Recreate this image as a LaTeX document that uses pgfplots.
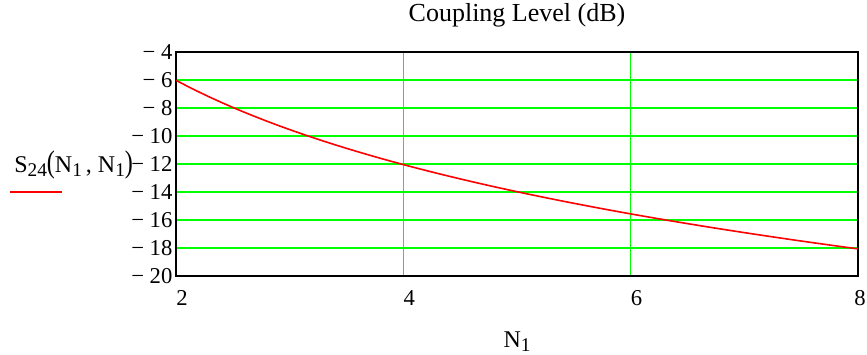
\documentclass[border=0pt]{standalone}
\usepackage{fontspec}
\setmainfont{Liberation Serif}
\usepackage{graphicx}
\usepackage{pgfplots}
\pgfplotsset{compat=1.18}
\definecolor{pgreen}{RGB}{0,255,0}
\definecolor{pred}{RGB}{255,0,0}
\newcommand{\sub}[1]{\raisebox{-0.35ex}{\fontsize{14.5}{14.5}\selectfont #1}}
\pgfplotstableread{
x y
2.0 -6.0206
2.1 -6.4444
2.2 -6.8485
2.3 -7.2346
2.4 -7.6042
2.5 -7.9588
2.6 -8.2995
2.7 -8.6273
2.8 -8.9432
2.9 -9.2480
3.0 -9.5424
3.1 -9.8272
3.2 -10.1030
3.3 -10.3703
3.4 -10.6296
3.5 -10.8814
3.6 -11.1261
3.7 -11.3640
3.8 -11.5957
3.9 -11.8213
4.0 -12.0412
4.1 -12.2557
4.2 -12.4650
4.3 -12.6694
4.4 -12.8691
4.5 -13.0643
4.6 -13.2552
4.7 -13.4420
4.8 -13.6248
4.9 -13.8039
5.0 -13.9794
5.1 -14.1514
5.2 -14.3201
5.3 -14.4855
5.4 -14.6479
5.5 -14.8073
5.6 -14.9638
5.7 -15.1175
5.8 -15.2686
5.9 -15.4170
6.0 -15.5630
6.1 -15.7066
6.2 -15.8478
6.3 -15.9868
6.4 -16.1236
6.5 -16.2583
6.6 -16.3909
6.7 -16.5215
6.8 -16.6502
6.9 -16.7770
7.0 -16.9020
7.1 -17.0252
7.2 -17.1466
7.3 -17.2665
7.4 -17.3846
7.5 -17.5012
7.6 -17.6163
7.7 -17.7298
7.8 -17.8419
7.9 -17.9525
8.0 -18.0618
}\coupling
\begin{document}
\begin{tikzpicture}
\begin{axis}[
  scale only axis, width=511.5pt, height=168pt,
  xmin=2, xmax=8, ymin=-20, ymax=-4,
  xtick={2,4,6,8}, xticklabels={2,4,6,{\hspace*{-3pt}8}},
  ytick={-20,-18,-16,-14,-12,-10,-8,-6,-4},
  yticklabels={{−\ 20},{−\ 18},{−\ 16},{−\ 14},{−\ 12},{−\ 10},{−\ 8},{−\ 6},{−\ 4}},
  major tick length=0pt,
  grid=major,
  major grid style={color=pgreen, line width=1pt},
  axis line style={line width=1.5pt, black},
  tick label style={font=\fontsize{17}{19}\selectfont},
  yticklabel style={anchor=east, inner sep=0pt, xshift=-2.5pt},
  xticklabel style={anchor=base west, inner sep=0pt, yshift=-22pt},
  title={Coupling Level (dB)},
  title style={at={(axis description cs:0.5,1)}, anchor=base, yshift=17pt, inner sep=0pt, font=\fontsize{19.5}{22}\selectfont},
  xlabel={N\sub{1}},
  every axis x label/.style={at={(axis description cs:0.5,0)}, anchor=base, yshift=-53.5pt, inner sep=0pt, font=\fontsize{18}{20}\selectfont},
  ylabel={S\sub{24}\scalebox{1}[1.3]{(}N\sub{1}\,, N\sub{1}\scalebox{1}[1.3]{)}},
  every axis y label/.style={at={(axis description cs:-0.2375,0.46)}, anchor=base west, inner sep=0pt, font=\fontsize{18}{20}\selectfont},
  legend style={at={(axis description cs:-0.2449,0.375)}, anchor=west, draw=none, fill=none, inner sep=0pt, nodes={inner sep=0pt}},
  legend image code/.code={\draw[pred, line width=1.2pt] (0pt,0pt) -- (39pt,0pt);},
]
\addplot[pred, line width=1.2pt] table[x=x, y=y] {\coupling};
\addlegendentry{}
\end{axis}
\pgfresetboundingbox
\path ([xshift=-132pt,yshift=-58.5pt]current axis.south west) rectangle ([xshift=6.75pt,yshift=39pt]current axis.north east);
\end{tikzpicture}
\end{document}
